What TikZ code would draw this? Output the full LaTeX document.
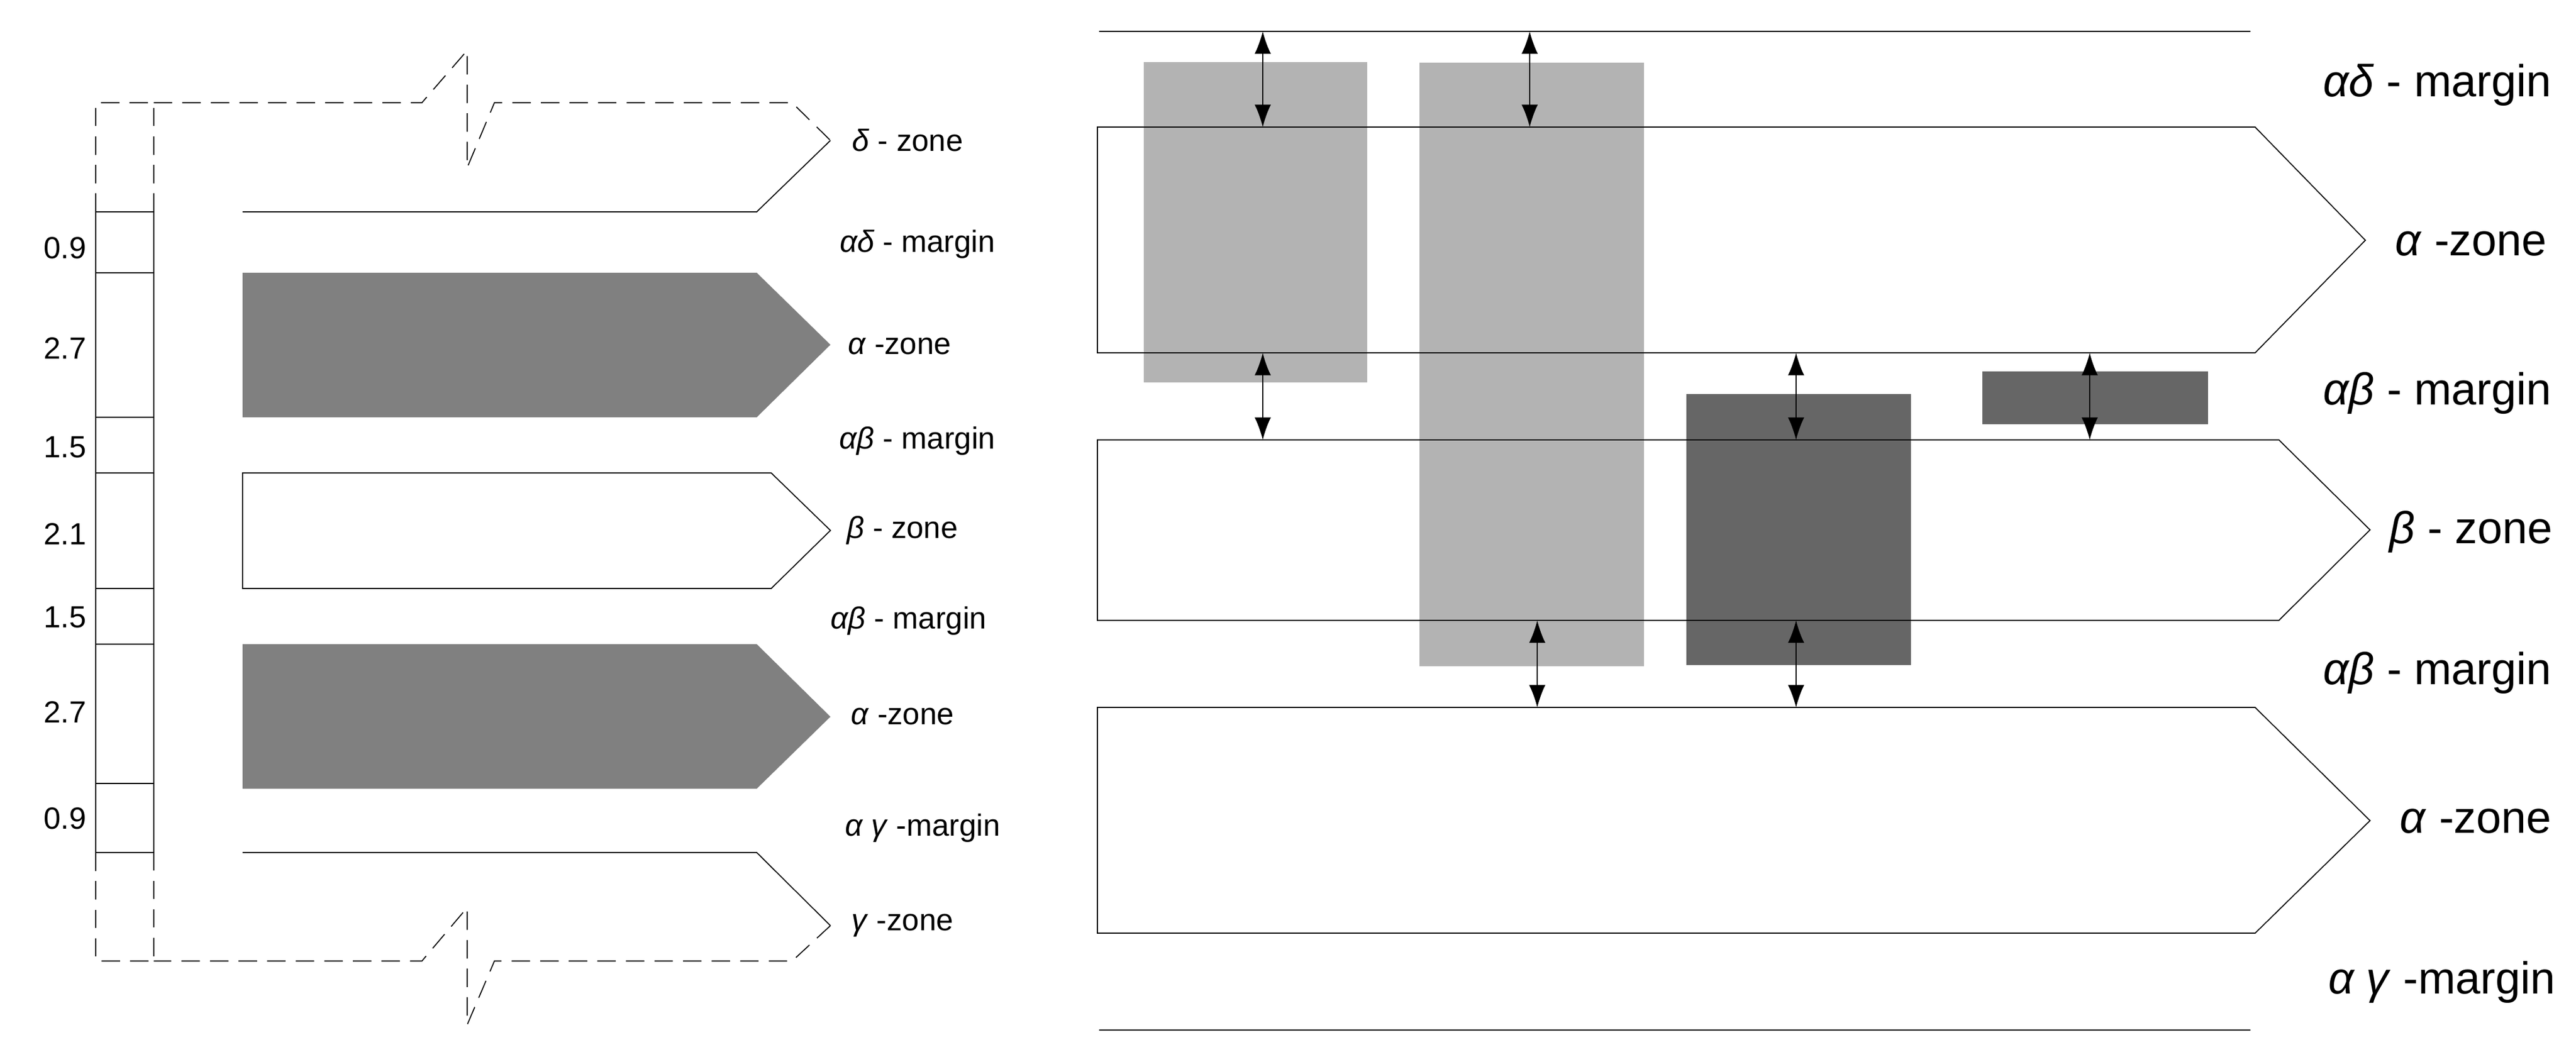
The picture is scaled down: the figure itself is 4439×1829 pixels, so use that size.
\documentclass[tikz,border=0pt]{standalone}
\usepackage{fontspec}
\setmainfont{Liberation Sans}
\usetikzlibrary{arrows.meta}
\definecolor{lightbox}{HTML}{B3B3B3}
\definecolor{darkbox}{HTML}{666666}
\definecolor{zonefill}{HTML}{808080}
\begin{document}
\begin{tikzpicture}[
    x = 0.01cm, y = -0.01cm,
    every path/.append style = {line width = 0.5pt},
    cut line/.style = {dash pattern = on 9pt off 5pt},
    num lbl/.style = {font=\fontsize{15}{18}\selectfont},
    small lbl/.style = {font=\fontsize{15}{18}\selectfont},
    big lbl/.style = {font=\fontsize{22}{26}\selectfont},
    gap/.style = {{Latex[length=11pt,width=8pt]}-{Latex[length=11pt,width=8pt]}}
]
\useasboundingbox (0,0) rectangle (4439,1829);

% left scale
\draw[cut line] (165,365) -- (165,177) -- (265,177);
\draw[cut line] (265,365) -- (265,177);
\draw[cut line] (165,1469) -- (165,1656) -- (265,1656) -- (265,1469);
\draw (165,365) -- (165,1469);
\draw (265,365) -- (265,1469);
\foreach \y in {365,470,719,815,1014,1110,1350,1469}
    \draw (165,\y) -- (265,\y);
\foreach \y/\v in {427/0.9,600/2.7,771/1.5,920/2.1,1064/1.5,1227/2.7,1410/0.9}
    \node[num lbl] (n\y) at (112,\y) {\v};

% left zones
\draw[cut line] (265,177) -- (727,177) -- (805,87) -- (805,289) -- (852,177) -- (1365,177) -- (1431,242);
\draw (1431,242) -- (1304,365) -- (418,365);
\fill[zonefill] (418,470) -- (1304,470) -- (1431,594) -- (1304,719) -- (418,719) -- cycle;
\draw (418,815) -- (1329,815) -- (1431,914) -- (1329,1014) -- (418,1014) -- cycle;
\fill[zonefill] (418,1110) -- (1304,1110) -- (1431,1235) -- (1304,1359) -- (418,1359) -- cycle;
\draw (418,1469) -- (1304,1469) -- (1431,1595);
\draw[cut line] (1431,1595) -- (1365,1656) -- (852,1656) -- (805,1766) -- (805,1564) -- (727,1656) -- (265,1656);

\node[small lbl] (ld) at (1564,242) {\textit{δ} - zone};
\node[small lbl] (lad) at (1581,421) {\textit{αδ} - margin};
\node[small lbl] (la1) at (1550,597) {\textit{α} -zone};
\node[small lbl] (lab1) at (1581,760) {\textit{αβ} - margin};
\node[small lbl] (lb) at (1555,914) {\textit{β} - zone};
\node[small lbl] (lab2) at (1566,1070) {\textit{αβ} - margin};
\node[small lbl] (la2) at (1555,1235) {\textit{α} -zone};
\node[small lbl] (lag) at (1590,1427) {\textit{α γ} -margin};
\node[small lbl] (lg) at (1555,1595) {\textit{γ} -zone};

% right panel: boxes
\fill[lightbox] (1971,107) rectangle (2356,659);
\fill[lightbox] (2446,108) rectangle (2833,1148);
\fill[darkbox] (2906,679) rectangle (3293,1146);
\fill[darkbox] (3416,640) rectangle (3805,731);

% right panel: zones
\draw (1894,54) -- (3878,54);
\draw (1891,219) -- (3886,219) -- (4076,414) -- (3886,608) -- (1891,608) -- cycle;
\draw (1891,758) -- (3927,758) -- (4084,913) -- (3927,1069) -- (1891,1069) -- cycle;
\draw (1891,1219) -- (3886,1219) -- (4084,1414) -- (3886,1608) -- (1891,1608) -- cycle;
\draw (1894,1775) -- (3878,1775);

% separations
\foreach \n/\x/\ya/\yb in {1/2176/54/219, 2/2636/54/219, 3/2176/608/758, 4/3095/608/758,
                          5/3601/608/758, 6/2649/1069/1219, 7/3095/1069/1219}{
    \coordinate (s\n) at (\x,\ya);
    \coordinate (e\n) at (\x,\yb);
    \draw[gap] (s\n) -- (e\n);
}

\node[big lbl] (rad) at (4200,146) {\textit{αδ} - margin};
\node[big lbl] (ra1) at (4258,420) {\textit{α} -zone};
\node[big lbl] (rab1) at (4200,677) {\textit{αβ} - margin};
\node[big lbl] (rb) at (4258,916) {\textit{β} - zone};
\node[big lbl] (rab2) at (4200,1159) {\textit{αβ} - margin};
\node[big lbl] (ra2) at (4266,1415) {\textit{α} -zone};
\node[big lbl] (rag) at (4208,1692) {\textit{α γ} -margin};
\end{tikzpicture}
\end{document}
